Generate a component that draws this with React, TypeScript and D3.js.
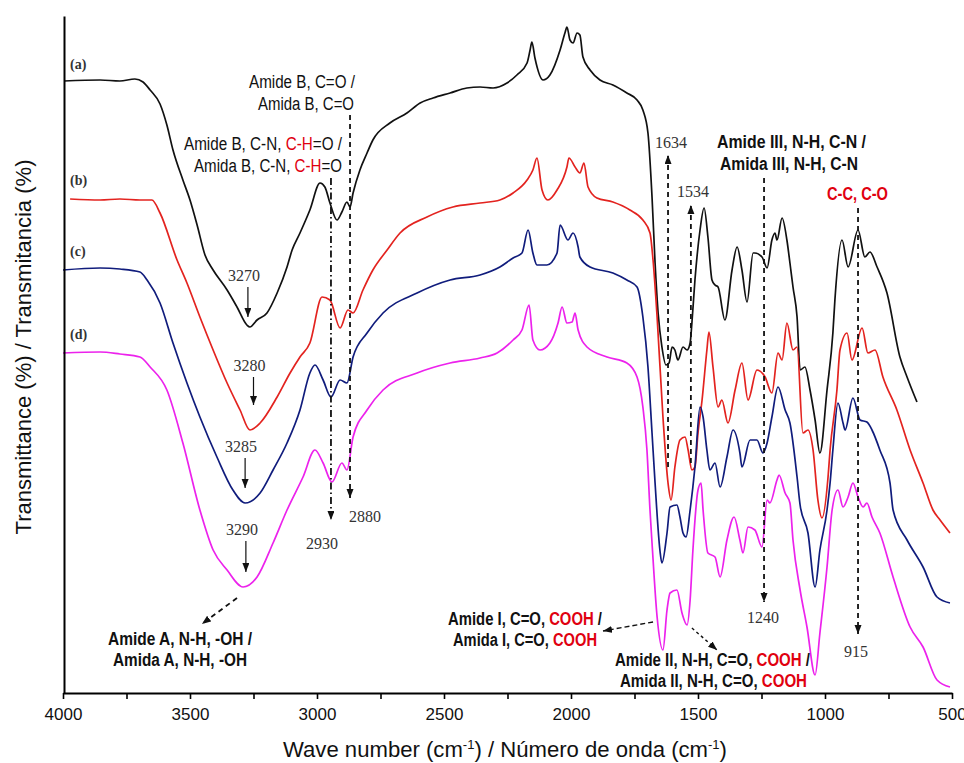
import React, { useEffect, useRef } from 'react';
import * as d3 from 'd3';

// FTIR spectra, [wavenumber cm-1, transmittance (a.u., offset per sample)]
const seriesA: [number, number][] = [
  [3996, 61.2], [3854, 61.3], [3776, 61.2], [3717, 61.4], [3685, 61.1], [3657, 60.3], [3618, 58.9],
  [3591, 56.8], [3567, 54.3], [3528, 51.3], [3500, 49.3], [3472, 46.8], [3441, 43.8], [3409, 42.3],
  [3354, 40.3], [3315, 38.6], [3276, 36.8], [3264, 36.6], [3236, 37.3], [3197, 38.0], [3157, 40.0],
  [3118, 42.6], [3098, 44.3], [3067, 46.0], [3028, 48.3], [2988, 51.0], [2969, 50.6], [2949, 49.0],
  [2921, 47.3], [2902, 48.1], [2882, 49.1], [2870, 48.6], [2858, 50.0], [2831, 52.3], [2803, 54.0],
  [2780, 55.3], [2713, 57.0], [2646, 58.0], [2594, 59.0], [2543, 59.5], [2476, 60.0], [2410, 60.5],
  [2358, 60.6], [2307, 60.5], [2252, 61.0], [2213, 61.8], [2173, 63.0], [2161, 64.3], [2154, 65.1],
  [2142, 63.5], [2110, 61.3], [2083, 61.8], [2043, 64.3], [2024, 66.0], [2016, 66.6], [2004, 65.3],
  [1992, 65.0], [1976, 66.0], [1965, 65.8], [1953, 63.6], [1925, 62.3], [1886, 61.3], [1835, 60.8],
  [1780, 60.0], [1740, 59.3], [1717, 58.3], [1697, 56.0], [1681, 49.6], [1669, 43.0], [1657, 38.0],
  [1642, 34.6], [1626, 32.8], [1614, 33.0], [1602, 34.6], [1591, 34.3], [1579, 33.3], [1559, 34.6],
  [1543, 34.3], [1531, 35.0], [1524, 37.0], [1512, 41.3], [1492, 46.3], [1476, 48.5], [1461, 45.6],
  [1445, 41.3], [1433, 40.8], [1421, 40.6], [1394, 37.3], [1366, 42.3], [1346, 44.6], [1327, 42.3],
  [1307, 39.1], [1283, 44.0], [1276, 44.0], [1248, 43.6], [1228, 42.5], [1209, 45.3], [1197, 46.0],
  [1189, 45.3], [1169, 47.5], [1150, 45.3], [1138, 43.0], [1126, 40.6], [1110, 37.6], [1098, 32.3],
  [1079, 32.6], [1059, 30.3], [1039, 27.3], [1020, 24.0], [992, 30.3], [969, 36.0], [961, 39.3],
  [933, 45.3], [909, 42.6], [870, 46.3], [843, 43.6], [823, 44.1], [795, 42.6], [756, 40.0],
  [705, 33.6], [677, 31.6], [638, 29.1],
];

const seriesB: [number, number][] = [
  [3972, 49.4], [3854, 49.3], [3776, 49.4], [3697, 49.3], [3650, 49.3], [3618, 48.0], [3551, 43.3],
  [3512, 41.0], [3461, 37.6], [3409, 34.3], [3354, 31.0], [3303, 28.3], [3264, 26.3], [3224, 27.0],
  [3157, 29.6], [3106, 32.0], [3067, 33.6], [3028, 35.0], [2980, 39.6], [2949, 39.3], [2909, 36.5],
  [2878, 38.3], [2858, 38.0], [2819, 40.3], [2780, 42.3], [2724, 44.3], [2673, 46.0], [2567, 47.6],
  [2465, 48.6], [2358, 49.0], [2280, 49.3], [2228, 50.0], [2173, 51.3], [2150, 52.3], [2134, 53.5],
  [2114, 50.3], [2091, 49.3], [2055, 50.3], [2016, 52.6], [2008, 53.5], [1984, 52.6], [1965, 52.0],
  [1949, 53.0], [1933, 50.6], [1898, 49.5], [1835, 49.1], [1768, 48.3], [1717, 47.3], [1689, 46.0],
  [1677, 43.3], [1661, 37.6], [1638, 27.6], [1618, 21.0], [1606, 19.3], [1591, 22.6], [1571, 25.3],
  [1551, 25.6], [1539, 24.3], [1524, 22.3], [1512, 22.6], [1500, 26.0], [1484, 29.3], [1465, 34.3],
  [1457, 36.1], [1441, 32.6], [1421, 28.6], [1406, 29.3], [1382, 27.0], [1354, 30.3], [1327, 33.0],
  [1303, 29.3], [1268, 32.3], [1236, 31.6], [1209, 30.0], [1185, 34.0], [1169, 33.3], [1150, 37.0],
  [1126, 34.3], [1110, 34.6], [1087, 26.0], [1067, 26.3], [1047, 24.3], [1028, 19.3], [1012, 17.5],
  [988, 21.6], [980, 24.3], [953, 30.3], [941, 34.3], [913, 36.0], [894, 33.3], [854, 36.5],
  [831, 34.0], [803, 34.3], [772, 31.6], [717, 28.3], [665, 24.3], [614, 21.0], [575, 18.3],
  [547, 17.3], [508, 16.0],
];

const seriesC: [number, number][] = [
  [4000, 42.3], [3854, 42.5], [3776, 42.4], [3697, 42.1], [3669, 41.3], [3618, 39.0], [3567, 35.0],
  [3512, 31.0], [3461, 27.6], [3394, 23.6], [3331, 20.3], [3283, 19.0], [3224, 20.0], [3173, 22.3],
  [3118, 25.0], [3067, 28.3], [3028, 32.0], [3008, 32.8], [2976, 31.3], [2945, 29.6], [2909, 31.3],
  [2882, 31.0], [2858, 33.6], [2803, 36.0], [2740, 38.0], [2606, 40.0], [2476, 41.3], [2358, 41.8],
  [2280, 42.6], [2228, 43.5], [2193, 44.0], [2169, 46.3], [2150, 44.0], [2134, 42.8], [2095, 42.8],
  [2055, 44.0], [2043, 46.8], [2012, 45.3], [1992, 46.0], [1972, 44.6], [1965, 43.6], [1925, 42.6],
  [1835, 42.0], [1780, 41.3], [1740, 40.6], [1717, 37.6], [1697, 32.6], [1681, 26.0], [1669, 21.0],
  [1650, 14.3], [1642, 13.0], [1622, 16.0], [1610, 18.6], [1583, 18.8], [1571, 17.6], [1559, 16.0],
  [1547, 15.6], [1531, 18.3], [1512, 22.6], [1492, 28.6], [1480, 27.6], [1465, 24.3], [1453, 22.3],
  [1433, 23.0], [1413, 20.6], [1386, 23.6], [1362, 26.3], [1335, 24.0], [1327, 22.6], [1295, 25.3],
  [1268, 25.3], [1244, 24.0], [1228, 25.0], [1209, 27.6], [1185, 30.6], [1157, 28.3], [1138, 27.0],
  [1110, 21.6], [1098, 18.8], [1067, 16.0], [1039, 10.6], [1020, 14.3], [992, 18.3], [980, 21.0],
  [969, 24.3], [949, 29.0], [929, 27.0], [921, 26.3], [890, 29.5], [862, 27.3], [835, 27.1],
  [815, 26.3], [784, 24.3], [744, 21.0], [732, 18.3], [677, 15.3], [614, 12.6], [559, 9.6], [508, 9.0],
];

const seriesD: [number, number][] = [
  [4000, 34.0], [3854, 34.1], [3776, 33.9], [3697, 33.6], [3657, 32.6], [3591, 30.3], [3528, 25.0],
  [3461, 18.3], [3409, 14.3], [3354, 12.3], [3291, 10.6], [3236, 11.6], [3173, 15.0], [3118, 18.3],
  [3055, 21.6], [3008, 24.3], [2976, 23.0], [2941, 21.1], [2902, 23.0], [2882, 22.3], [2858, 25.6],
  [2803, 28.3], [2740, 30.3], [2606, 32.0], [2476, 33.0], [2358, 33.5], [2291, 34.0], [2228, 35.3],
  [2193, 36.3], [2165, 38.8], [2150, 35.3], [2122, 34.3], [2083, 35.0], [2051, 37.0], [2035, 38.6],
  [2016, 37.0], [1996, 37.1], [1984, 38.0], [1972, 36.3], [1937, 34.6], [1858, 33.6], [1780, 33.0],
  [1740, 31.6], [1717, 28.6], [1701, 24.3], [1689, 18.3], [1681, 15.0], [1661, 7.6], [1638, 4.3],
  [1622, 8.3], [1610, 10.0], [1583, 10.3], [1563, 8.0], [1543, 6.8], [1531, 9.3], [1520, 14.3],
  [1500, 20.3], [1488, 21.0], [1480, 18.3], [1461, 14.0], [1433, 13.6], [1413, 11.6], [1386, 15.3],
  [1358, 17.6], [1335, 15.3], [1323, 14.0], [1303, 16.6], [1276, 16.3], [1248, 14.6], [1228, 19.3],
  [1217, 19.0], [1189, 21.3], [1181, 21.8], [1157, 20.0], [1138, 19.0], [1126, 15.3], [1098, 10.3],
  [1071, 6.6], [1039, 1.8], [1020, 6.0], [992, 12.6], [972, 18.3], [949, 20.3], [929, 18.6],
  [909, 19.6], [890, 21.0], [870, 19.6], [850, 18.6], [835, 19.0], [815, 17.6], [784, 16.0],
  [732, 11.6], [665, 6.6], [614, 4.6], [559, 1.3], [508, 0.6],
];

const sampleLabels = ['(a)', '(b)', '(c)', '(d)'];
const sampleColors = ['#111111', '#e3231f', '#101c7c', '#ec22ec'];
const majorTicks = [4000, 3500, 3000, 2500, 2000, 1500, 1000, 500];
const minorTicks = [3750, 3250, 2750, 2250, 1750, 1250, 750];

// dashed guide lines: [label, wavenumber, from value, to value]
const guideLines: [string, number, number, number][] = [
  ['2930', 2945, 51.5, 17.3],
  ['2880', 2870, 57.8, 19.5],
  ['1634', 1618, 22.6, 53.8],
  ['1534', 1528, 23.0, 48.8],
  ['1240', 1240, 51.5, 9.1],
  ['915', 870, 48.5, 5.9],
];
// minimum arrows: [label, wavenumber, from, to]
const minArrows: [string, number, number, number][] = [
  ['3270', 3272, 40.6, 37.6],
  ['3280', 3250, 31.6, 28.8],
  ['3285', 3283, 23.5, 20.5],
  ['3290', 3280, 15.2, 12.1],
];

const W = 964;
const H = 763;
const x = d3.scaleLinear().domain([4000, 500]).range([63, 952]);
const y = d3.scaleLinear().domain([0, 67.7]).range([693, 16]);

const narrow = "'Liberation Sans Narrow', 'Arial Narrow', 'Liberation Sans', sans-serif";
const serif = "'Liberation Serif', 'Times New Roman', serif";
const RED = '#e0000f';

type Part = { t: string; red?: boolean };
const noteLines: { x: number; y: number; w: number; bold?: boolean; parts: Part[] }[] = [
  { x: 249, y: 88, w: 106, parts: [{ t: 'Amide B, C=O /' }] },
  { x: 258, y: 110, w: 96, parts: [{ t: 'Amida B, C=O' }] },
  { x: 184, y: 150, w: 158, parts: [{ t: 'Amide B, C-N, ' }, { t: 'C-H', red: true }, { t: '=O /' }] },
  { x: 194, y: 172, w: 148, parts: [{ t: 'Amida B, C-N, ' }, { t: 'C-H', red: true }, { t: '=O' }] },
  { x: 717, y: 148, w: 149, bold: true, parts: [{ t: 'Amide III, N-H, C-N /' }] },
  { x: 720, y: 170, w: 138, bold: true, parts: [{ t: 'Amida III, N-H, C-N' }] },
  { x: 827, y: 200, w: 61, bold: true, parts: [{ t: 'C-C, C-O', red: true }] },
  { x: 108, y: 645, w: 144, bold: true, parts: [{ t: 'Amide A, N-H, -OH /' }] },
  { x: 113, y: 666, w: 134, bold: true, parts: [{ t: 'Amida A, N-H, -OH' }] },
  { x: 448, y: 625, w: 154, bold: true, parts: [{ t: 'Amide I, C=O, ' }, { t: 'COOH', red: true }, { t: ' /' }] },
  { x: 453, y: 646, w: 144, bold: true, parts: [{ t: 'Amida I, C=O, ' }, { t: 'COOH', red: true }] },
  { x: 615, y: 666, w: 195, bold: true, parts: [{ t: 'Amide II, N-H, C=O, ' }, { t: 'COOH', red: true }, { t: ' /' }] },
  { x: 620, y: 687, w: 187, bold: true, parts: [{ t: 'Amida II, N-H, C=O, ' }, { t: 'COOH', red: true }] },
];

export default function App() {
  const axisRef = useRef<SVGGElement>(null);

  useEffect(() => {
    const g = d3.select(axisRef.current);
    g.selectAll('*').remove();

    const bottom = g.append('g').attr('transform', `translate(0,${y(0)})`)
      .call(d3.axisBottom(x).tickValues(majorTicks).tickSize(6).tickSizeOuter(0).tickPadding(9).tickFormat(d3.format('d')));
    bottom.select('.domain').attr('stroke-width', 2);
    bottom.selectAll('.tick line').attr('stroke-width', 1.6);
    bottom.selectAll('.tick text')
      .style('font-family', narrow).style('font-size', '17px').attr('fill', '#111');

    const minor = g.append('g').attr('transform', `translate(0,${y(0)})`)
      .call(d3.axisBottom(x).tickValues(minorTicks).tickSize(6).tickFormat(() => ''));
    minor.select('.domain').remove();
    minor.selectAll('.tick line').attr('stroke-width', 1.6);

    const left = g.append('g').attr('transform', `translate(${x(4000) + 1},0)`)
      .call(d3.axisLeft(y).tickValues([]).tickSizeOuter(0));
    left.select('.domain').attr('stroke-width', 2);
  }, []);

  const line = d3.line<[number, number]>().x(d => x(d[0])).y(d => y(d[1])).curve(d3.curveMonotoneX);
  const all = [seriesA, seriesB, seriesC, seriesD];
  const startV = all.map(s => s[0][1]);

  return (
    <svg width={W} height={H} style={{ position: 'absolute', left: 0, top: 0, background: '#fff' }}>
      <defs>
        <marker id="head" markerUnits="userSpaceOnUse" markerWidth={10} markerHeight={8}
          refX={9} refY={3.5} orient="auto">
          <path d="M0,0 L9,3.5 L0,7 z" fill="#111" />
        </marker>
      </defs>

      {all.map((s, i) => (
        <path key={i} d={line(s) ?? ''} fill="none" stroke={sampleColors[i]}
          strokeWidth={1.7} strokeLinejoin="round" />
      ))}

      {sampleLabels.map((l, i) => (
        <text key={l} x={70} y={y(startV[i]) - 14 + (i === 0 ? 2 : 0)} fontFamily={serif}
          fontWeight="bold" fontSize={14} fill="#333">{l}</text>
      ))}

      {guideLines.map(([lab, wn, v0, v1], i) => (
        <line key={lab} x1={x(wn)} x2={x(wn)} y1={y(v0)} y2={y(v1)} stroke="#111"
          strokeWidth={1.8} strokeDasharray={i === 0 ? '7,3,1.5,3' : '5,4'} markerEnd="url(#head)" />
      ))}
      <text x={x(2980)} y={y(14.4)} textAnchor="middle" fontFamily={serif} fontSize={16} fill="#333">2930</text>
      <text x={x(2811)} y={y(17.1)} textAnchor="middle" fontFamily={serif} fontSize={16} fill="#333">2880</text>
      <text x={x(1606)} y={y(54.5)} textAnchor="middle" fontFamily={serif} fontSize={16} fill="#333">1634</text>
      <text x={x(1520)} y={y(49.6)} textAnchor="middle" fontFamily={serif} fontSize={16} fill="#333">1534</text>
      <text x={x(1244)} y={y(7.0)} textAnchor="middle" fontFamily={serif} fontSize={16} fill="#333">1240</text>
      <text x={x(878)} y={y(3.6)} textAnchor="middle" fontFamily={serif} fontSize={16} fill="#333">915</text>

      {minArrows.map(([lab, wn, v0, v1]) => (
        <g key={lab}>
          <line x1={x(wn)} x2={x(wn)} y1={y(v0)} y2={y(v1)} stroke="#111" strokeWidth={1.2} markerEnd="url(#head)" />
          <text x={x(wn) - 4} y={y(v0) - 6} textAnchor="middle" fontFamily={serif} fontSize={16} fill="#333">{lab}</text>
        </g>
      ))}

      {/* label pointers */}
      <line x1={x(3315)} y1={y(9.5)} x2={x(3453)} y2={y(6.9)} stroke="#111" strokeWidth={1.8}
        strokeDasharray="5,4" markerEnd="url(#head)" />
      <line x1={x(1677)} y1={y(7.1)} x2={x(1874)} y2={y(6.2)} stroke="#111" strokeWidth={1.4}
        strokeDasharray="5,3" markerEnd="url(#head)" />
      <line x1={x(1524)} y1={y(6.5)} x2={x(1425)} y2={y(4.3)} stroke="#111" strokeWidth={1.4}
        strokeDasharray="3,3" markerEnd="url(#head)" />

      {noteLines.map((n, i) => (
        <text key={i} x={n.x} y={n.y} fontFamily={narrow} fontSize={18} fontWeight={n.bold ? 'bold' : 'normal'}
          fill="#111" textLength={n.w} lengthAdjust="spacingAndGlyphs">
          {n.parts.map((p, j) => (
            <tspan key={j} fill={p.red ? RED : '#111'}>{p.t}</tspan>
          ))}
        </text>
      ))}

      <g ref={axisRef} />

      <text transform="translate(31,347) rotate(-90)" textAnchor="middle" fontFamily={narrow}
        fontSize={22} fill="#111" textLength={375} lengthAdjust="spacingAndGlyphs">
        Transmittance (%) / Transmitancia (%)
      </text>
      <text x={505} y={757} textAnchor="middle" fontFamily={narrow} fontSize={22} fill="#111"
        textLength={444} lengthAdjust="spacingAndGlyphs">
        Wave number (cm<tspan dy={-8} fontSize={13}>-1</tspan><tspan dy={8}>) / Número de onda (cm</tspan>
        <tspan dy={-8} fontSize={13}>-1</tspan><tspan dy={8}>)</tspan>
      </text>
    </svg>
  );
}
